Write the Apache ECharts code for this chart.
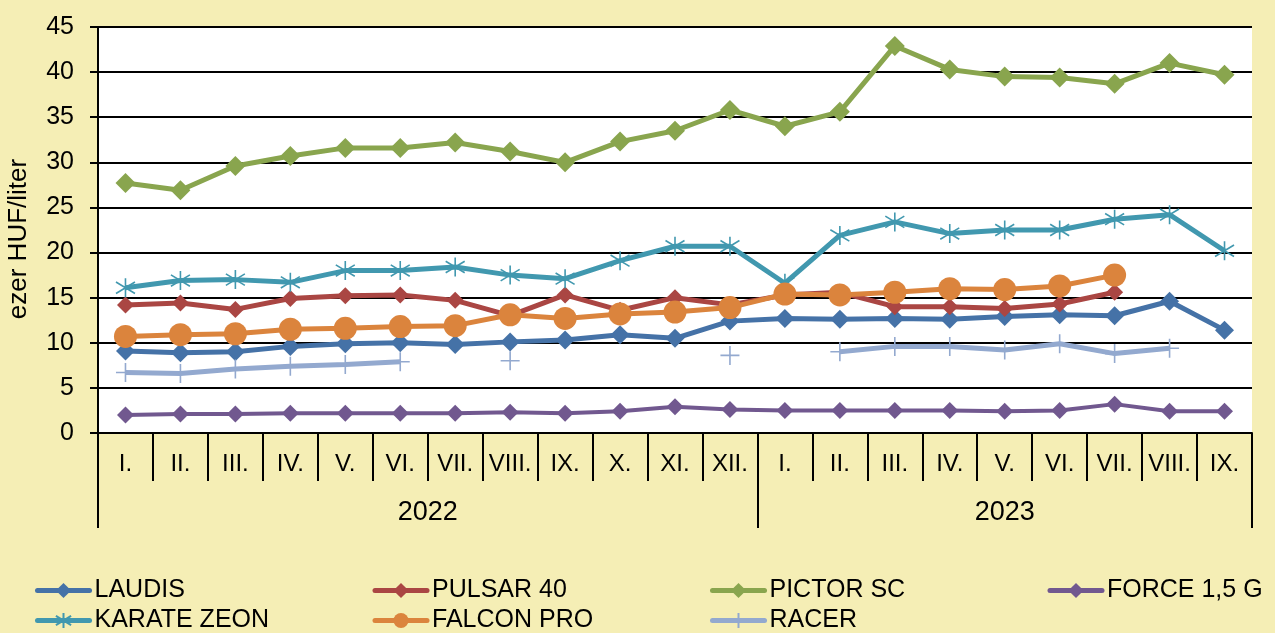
<!DOCTYPE html>
<html>
<head>
<meta charset="utf-8">
<script src="https://cdn.jsdelivr.net/npm/echarts@6/dist/echarts.min.js"></script>
<style>
  html, body { margin: 0; padding: 0; background: #F5EEB5; }
  #chart { width: 1275px; height: 633px; }
</style>
</head>
<body>
<div id="chart"></div>
<script>
// ---- data ----
const months = ['I.','II.','III.','IV.','V.','VI.','VII.','VIII.','IX.','X.','XI.','XII.',
                'I.','II.','III.','IV.','V.','VI.','VII.','VIII.','IX.'];
const years = ['2022', '2023'];
const monthsPerYear = [12, 9];

const laudis    = [9.1, 8.9, 9.0, 9.6, 9.9, 10.0, 9.8, 10.1, 10.3, 10.9, 10.5, 12.4, 12.7, 12.6, 12.7, 12.6, 12.9, 13.1, 13.0, 14.6, 11.4];
const pulsar40  = [14.2, 14.4, 13.7, 14.9, 15.2, 15.3, 14.7, 13.0, 15.3, 13.6, 15.0, 14.2, 15.3, 15.6, 14.0, 14.0, 13.8, 14.3, 15.6, null, null];
const pictorSC  = [27.7, 26.9, 29.6, 30.7, 31.6, 31.6, 32.2, 31.2, 30.0, 32.3, 33.5, 35.8, 34.0, 35.6, 42.9, 40.3, 39.5, 39.4, 38.7, 41.0, 39.7];
const force15G  = [2.0, 2.1, 2.1, 2.2, 2.2, 2.2, 2.2, 2.3, 2.2, 2.4, 2.9, 2.6, 2.5, 2.5, 2.5, 2.5, 2.4, 2.5, 3.2, 2.4, 2.4];
const karateZeon= [16.1, 16.9, 17.0, 16.7, 18.0, 18.0, 18.4, 17.5, 17.1, 19.1, 20.7, 20.7, 16.6, 21.9, 23.4, 22.1, 22.5, 22.5, 23.7, 24.2, 20.2];
const falconPro = [10.7, 10.9, 11.0, 11.5, 11.6, 11.8, 11.9, 13.1, 12.7, 13.2, 13.4, 13.9, 15.4, 15.3, 15.6, 16.0, 15.9, 16.3, 17.5, null, null];
const racer     = [6.7, 6.6, 7.1, 7.4, 7.6, 7.9, null, 8.0, null, null, null, 8.6, null, 9.0, 9.6, 9.6, 9.2, 9.9, 8.8, 9.4, null];

const yTicks = { min: 0, max: 45, interval: 5 };

// ---- year axis built on half-month steps ----
const nHalf = months.length * 2 + 1;
const yearAxisData = new Array(nHalf).fill('');
const yearBoundaries = [0];
const yearLabelIdx = {};
let acc = 0;
years.forEach((y, i) => {
  const start = acc;
  acc += monthsPerYear[i];
  yearBoundaries.push(acc * 2);
  const mid = start + acc;  // midpoint in half-month steps: (start*2 + acc*2) / 2
  yearAxisData[mid] = y;
  yearLabelIdx[mid] = true;
});

const FONT = 'Arial, "Liberation Sans", sans-serif';
const C = {
  laudis: '#4572A7', pulsar: '#AA4643', pictor: '#89A54E', force: '#71588F',
  karate: '#4198AF', falcon: '#DB843D', racer: '#93A9CF'
};
const STAR = 'path://M10,0L10,20M2,4L18,16M2,16L18,4';
const PLUS = 'path://M0,10L20,10M10,0L10,20';

function ser(name, data, color, symbol, size, lw, stroke) {
  return {
    name, type: 'line', data, xAxisIndex: 0, yAxisIndex: 0,
    symbol, symbolSize: size, showSymbol: true, connectNulls: false,
    lineStyle: { color, width: lw },
    itemStyle: stroke ? { color, borderColor: color, borderWidth: 1.6 } : { color, borderWidth: 0 },
    emphasis: { disabled: true }
  };
}

const chart = echarts.init(document.getElementById('chart'), null, { renderer: 'canvas' });
const legendText = { fontFamily: FONT, fontSize: 25, color: '#000', width: 278, lineHeight: 25, overflow: 'none' };
const legendCommon = {
  left: 35, width: 1400, padding: 0, itemGap: 0, itemWidth: 52, itemHeight: 19,
  orient: 'horizontal', selectedMode: false,
  textStyle: legendText,
  lineStyle: { width: 5, cap: 'round' }
};
chart.setOption({
  animation: false,
  backgroundColor: '#F5EEB5',
  textStyle: { fontFamily: FONT, color: '#000' },
  grid: { left: 98, right: 23, top: 27, bottom: 200, show: true, backgroundColor: '#FFFFFF', borderWidth: 0,
          containLabel: false, outerBoundsMode: 'none' },
  legend: [
    Object.assign({}, legendCommon, {
      top: 578,
      data: [{ name: 'LAUDIS' }, { name: 'PULSAR 40' }, { name: 'PICTOR SC' }, { name: 'FORCE 1,5 G' }]
    }),
    Object.assign({}, legendCommon, {
      top: 608,
      data: [{ name: 'KARATE ZEON' }, { name: 'FALCON PRO' }, { name: 'RACER' }]
    })
  ],
  xAxis: [
    {
      type: 'category', data: months, boundaryGap: true, position: 'bottom',
      axisLine: { show: true, lineStyle: { color: '#000', width: 2 } },
      axisTick: { show: true, interval: 0, length: 48, lineStyle: { color: '#000', width: 2 } },
      axisLabel: { interval: 0, margin: 19, fontSize: 24, lineHeight: 24, color: '#000', fontFamily: FONT },
      splitLine: { show: false }
    },
    {
      type: 'category', data: yearAxisData, boundaryGap: false, position: 'bottom', offset: 0,
      axisLine: { show: false },
      axisTick: {
        show: true, length: 95, lineStyle: { color: '#000', width: 2 },
        interval: (idx) => yearBoundaries.indexOf(idx) >= 0
      },
      axisLabel: {
        show: true, margin: 66, fontSize: 27, lineHeight: 27, color: '#000', fontFamily: FONT,
        interval: (idx) => !!yearLabelIdx[idx]
      },
      splitLine: { show: false }
    }
  ],
  yAxis: {
    type: 'value', min: yTicks.min, max: yTicks.max, interval: yTicks.interval,
    name: 'ezer HUF/liter', nameLocation: 'middle', nameRotate: 90, nameGap: 66,
    nameTextStyle: { fontSize: 26, color: '#000', fontFamily: FONT, padding: [0, 18, 0, 0] },
    axisLine: { show: true, lineStyle: { color: '#000', width: 2 } },
    axisTick: { show: true, inside: false, length: 8, lineStyle: { color: '#000', width: 2 } },
    axisLabel: { margin: 24, fontSize: 25, color: '#000', fontFamily: FONT },
    splitLine: { show: true, lineStyle: { color: '#000', width: 2 } }
  },
  series: [
    ser('LAUDIS', laudis, C.laudis, 'diamond', 19, 5),
    ser('PULSAR 40', pulsar40, C.pulsar, 'diamond', 17, 5),
    ser('PICTOR SC', pictorSC, C.pictor, 'diamond', 20, 5),
    ser('FORCE 1,5 G', force15G, C.force, 'diamond', 17, 4),
    ser('KARATE ZEON', karateZeon, C.karate, STAR, 19, 5, true),
    ser('FALCON PRO', falconPro, C.falcon, 'circle', 23, 5),
    ser('RACER', racer, C.racer, PLUS, 19, 5, true)
  ]
});
</script>
</body>
</html>
